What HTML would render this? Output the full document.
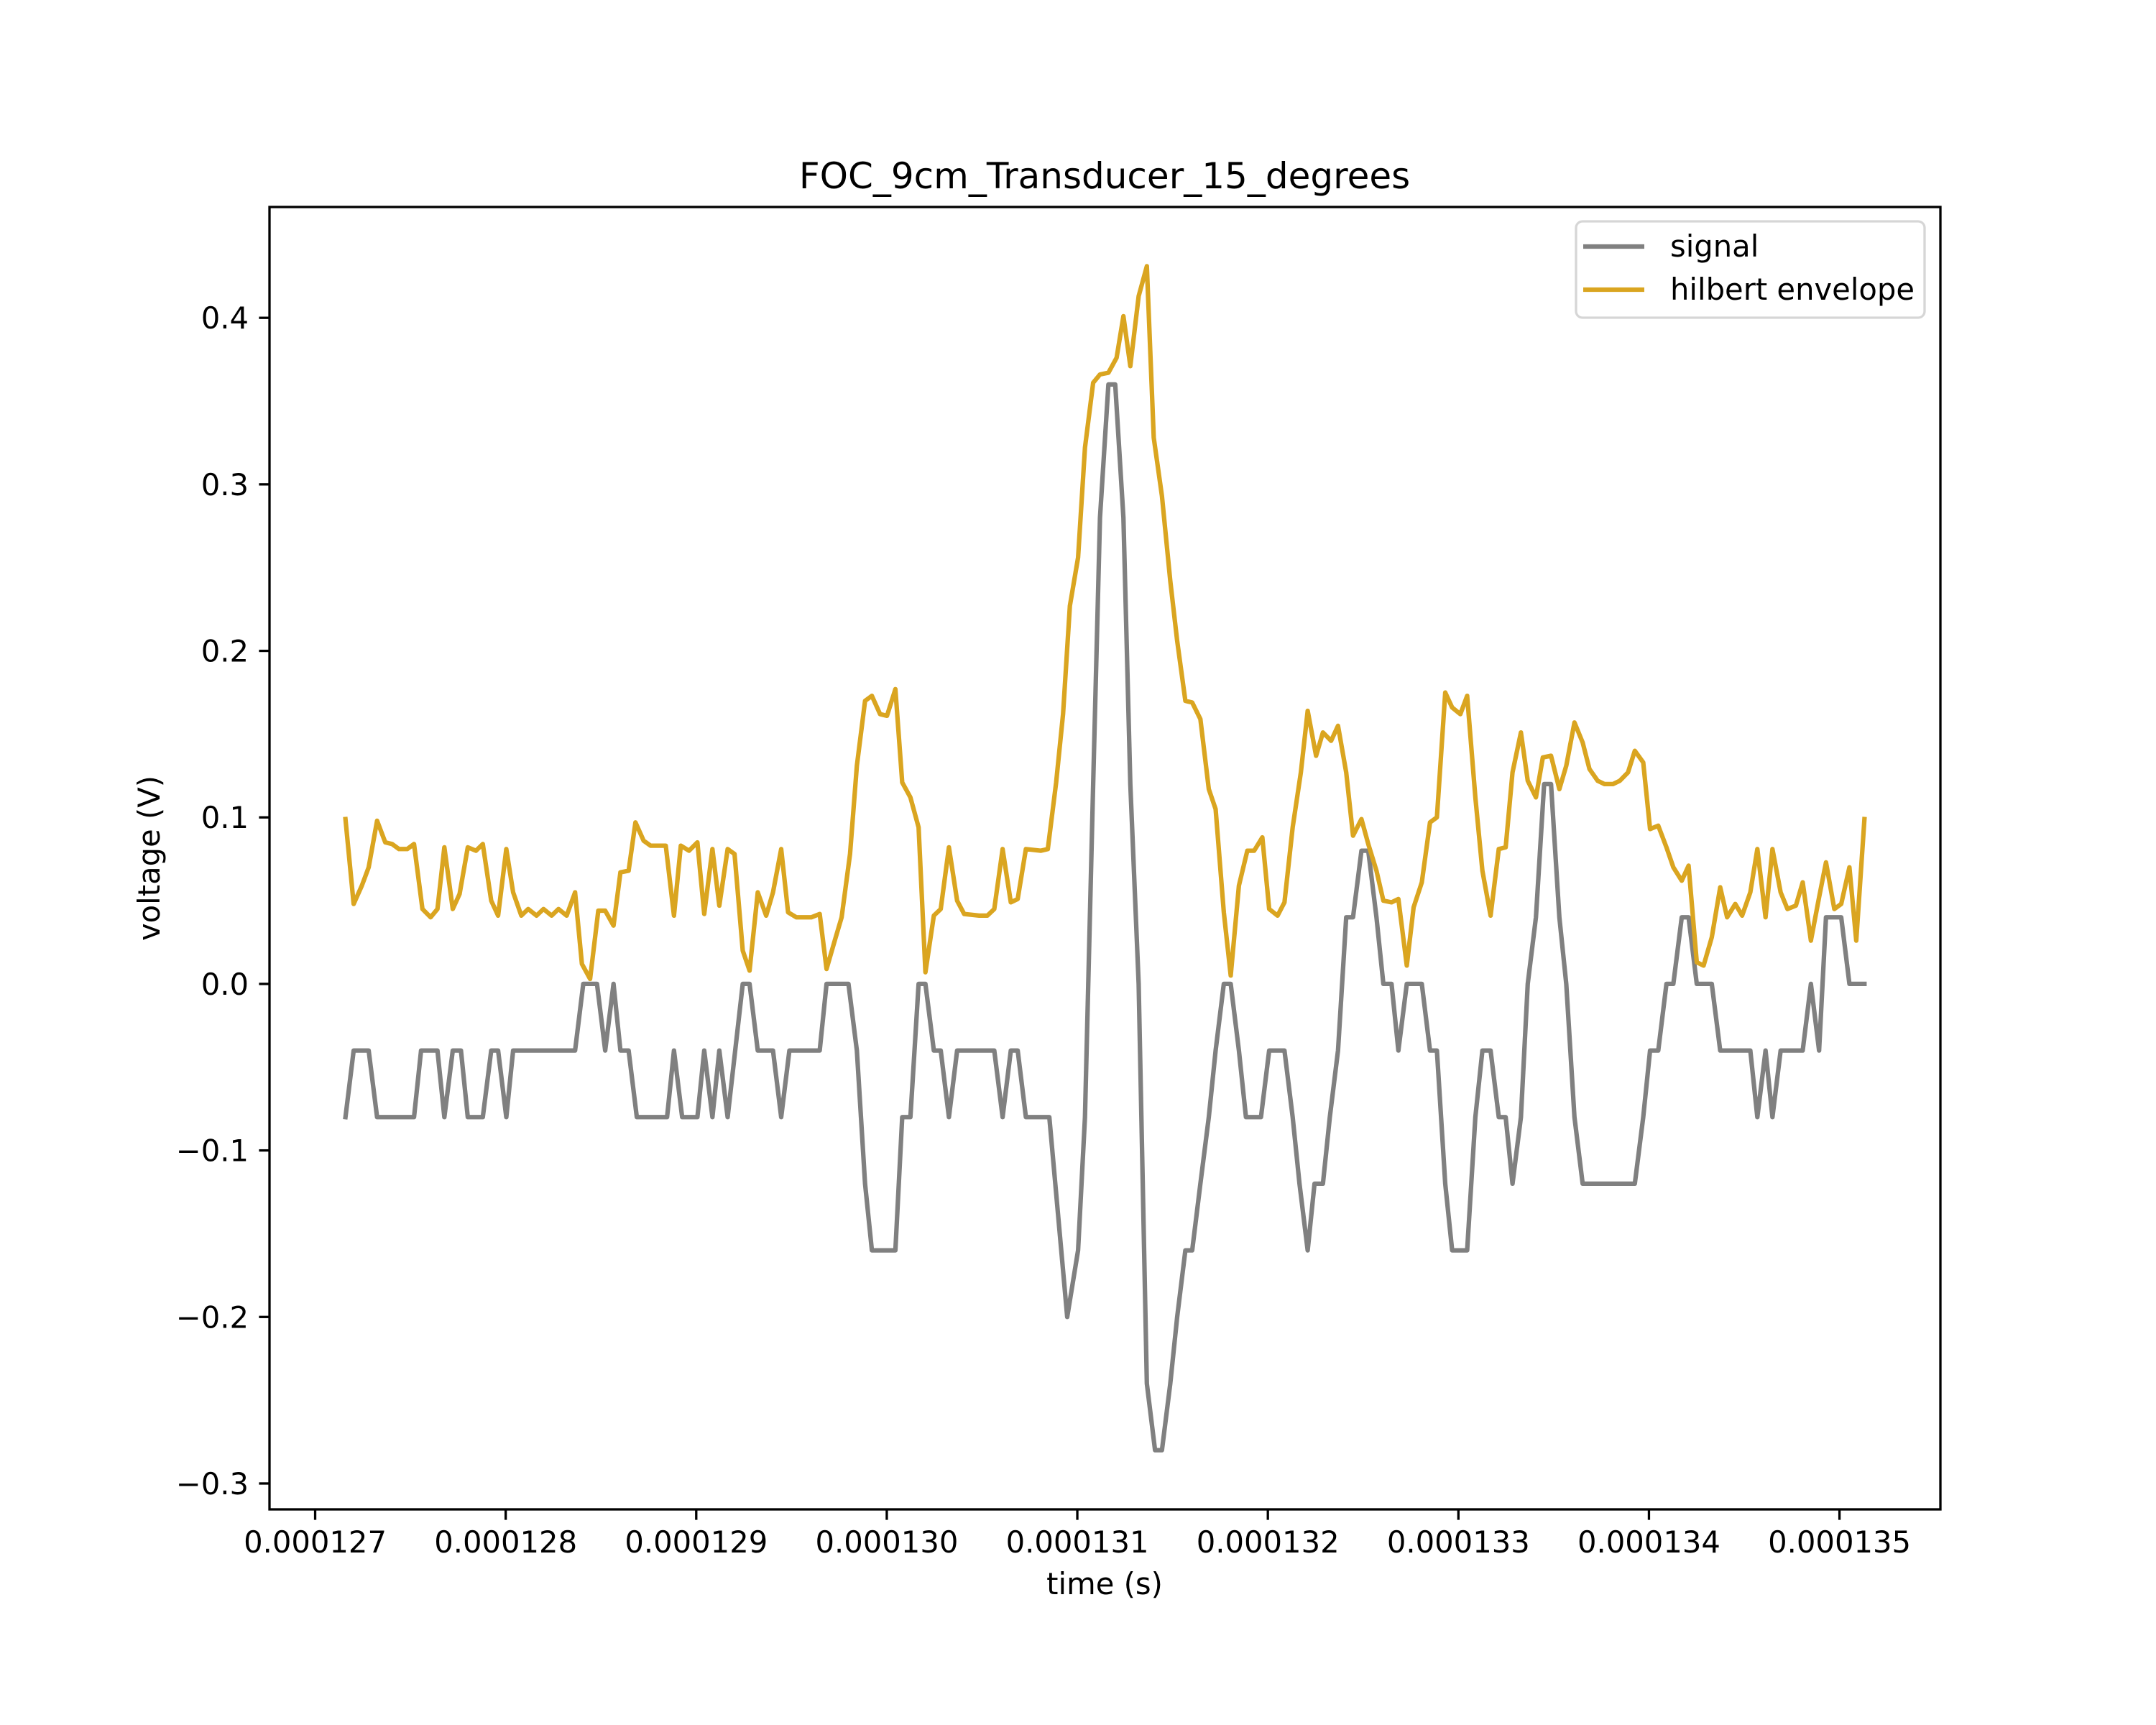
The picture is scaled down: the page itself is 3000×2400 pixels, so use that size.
<!DOCTYPE html>
<html><head><meta charset="utf-8"><style>html,body{margin:0;padding:0;background:#fff}svg{display:block}text{font-family:"DejaVu Sans","Liberation Sans",sans-serif;fill:#000}</style></head>
<body>
<svg id="chart" width="3000" height="2400" viewBox="0 0 3000 2400" xmlns="http://www.w3.org/2000/svg">
<rect width="3000" height="2400" fill="#fff"/>
<text x="1537" y="262" font-size="50" text-anchor="middle">FOC_9cm_Transducer_15_degrees</text>
<g id="plot"></g>
<text x="1537" y="2218" font-size="41.7" text-anchor="middle">time (s)</text>
<text x="0" y="0" font-size="41.7" text-anchor="middle" transform="translate(222,1194) rotate(-90)">voltage (V)</text>
<g>
<rect x="2193" y="308" width="485" height="134" rx="9" fill="#fff" fill-opacity="0.8" stroke="#d6d6d6" stroke-width="3.3"/>
<line x1="2203" y1="343" x2="2288" y2="343" stroke="#808080" stroke-width="6.25"/>
<text x="2324" y="357" font-size="41.7">signal</text>
<line x1="2203" y1="403" x2="2288" y2="403" stroke="#DAA520" stroke-width="6.25"/>
<text x="2324" y="417" font-size="41.7">hilbert envelope</text>
</g>
</svg>
<script>
const sigT=[127.159,127.202,127.281,127.325,127.519,127.556,127.642,127.678,127.722,127.765,127.801,127.880,127.924,127.960,128.003,128.039,128.364,128.407,128.479,128.522,128.566,128.602,128.645,128.688,128.847,128.883,128.926,129.006,129.042,129.085,129.121,129.165,129.244,129.280,129.323,129.403,129.446,129.489,129.648,129.684,129.799,129.843,129.886,129.922,130.045,130.081,130.124,130.167,130.203,130.247,130.283,130.326,130.369,130.564,130.608,130.651,130.687,130.730,130.853,130.947,131.004,131.040,131.083,131.119,131.163,131.199,131.242,131.278,131.322,131.365,131.408,131.444,131.488,131.524,131.567,131.603,131.646,131.690,131.726,131.769,131.805,131.848,131.885,131.964,132.007,132.087,132.130,132.166,132.209,132.245,132.289,132.325,132.368,132.411,132.447,132.491,132.527,132.570,132.606,132.649,132.685,132.729,132.808,132.851,132.887,132.931,132.967,133.046,133.089,133.126,133.169,133.212,133.248,133.284,133.328,133.364,133.407,133.450,133.486,133.530,133.566,133.609,133.652,133.926,133.970,134.006,134.049,134.092,134.128,134.172,134.208,134.251,134.330,134.374,134.532,134.569,134.612,134.648,134.691,134.807,134.850,134.893,134.929,135.009,135.052,135.131];
const sigV=[-0.08,-0.04,-0.04,-0.08,-0.08,-0.04,-0.04,-0.08,-0.04,-0.04,-0.08,-0.08,-0.04,-0.04,-0.08,-0.04,-0.04,0,0,-0.04,0,-0.04,-0.04,-0.08,-0.08,-0.04,-0.08,-0.08,-0.04,-0.08,-0.04,-0.08,0,0,-0.04,-0.04,-0.08,-0.04,-0.04,0,0,-0.04,-0.12,-0.16,-0.16,-0.08,-0.08,0,0,-0.04,-0.04,-0.08,-0.04,-0.04,-0.08,-0.04,-0.04,-0.08,-0.08,-0.20,-0.16,-0.08,0.12,0.28,0.36,0.36,0.28,0.12,0,-0.24,-0.28,-0.28,-0.24,-0.20,-0.16,-0.16,-0.12,-0.08,-0.04,0,0,-0.04,-0.08,-0.08,-0.04,-0.04,-0.08,-0.12,-0.16,-0.12,-0.12,-0.08,-0.04,0.04,0.04,0.08,0.08,0.04,0,0,-0.04,0,0,-0.04,-0.04,-0.12,-0.16,-0.16,-0.08,-0.04,-0.04,-0.08,-0.08,-0.12,-0.08,0,0.04,0.12,0.12,0.04,0,-0.08,-0.12,-0.12,-0.08,-0.04,-0.04,0,0,0.04,0.04,0,0,-0.04,-0.04,-0.08,-0.04,-0.08,-0.04,-0.04,0,-0.04,0.04,0.04,0,0];
const envT=[127.159,127.202,127.245,127.281,127.325,127.368,127.404,127.440,127.483,127.519,127.563,127.606,127.642,127.678,127.722,127.758,127.801,127.844,127.880,127.924,127.960,128.003,128.039,128.082,128.118,128.162,128.198,128.241,128.277,128.320,128.364,128.400,128.443,128.486,128.522,128.566,128.602,128.645,128.681,128.724,128.760,128.840,128.883,128.919,128.962,129.006,129.042,129.085,129.121,129.165,129.201,129.244,129.280,129.323,129.367,129.403,129.446,129.482,129.525,129.605,129.648,129.684,129.727,129.763,129.807,129.843,129.886,129.922,129.965,130.001,130.045,130.081,130.124,130.167,130.203,130.247,130.283,130.326,130.369,130.406,130.485,130.528,130.564,130.608,130.651,130.687,130.730,130.809,130.845,130.889,130.925,130.961,131.004,131.040,131.083,131.119,131.163,131.206,131.242,131.278,131.322,131.365,131.401,131.444,131.488,131.524,131.567,131.603,131.646,131.690,131.726,131.769,131.805,131.848,131.892,131.928,131.971,132.007,132.051,132.087,132.130,132.173,132.209,132.253,132.289,132.332,132.368,132.411,132.447,132.491,132.527,132.570,132.606,132.649,132.685,132.729,132.765,132.808,132.851,132.887,132.931,132.967,133.010,133.046,133.089,133.126,133.169,133.212,133.248,133.284,133.328,133.364,133.407,133.443,133.486,133.530,133.566,133.609,133.652,133.688,133.731,133.767,133.811,133.847,133.890,133.926,133.970,134.006,134.049,134.092,134.128,134.172,134.208,134.251,134.287,134.330,134.374,134.410,134.453,134.489,134.532,134.569,134.612,134.648,134.691,134.727,134.771,134.807,134.850,134.893,134.929,134.973,135.009,135.052,135.088,135.131];
const envV=[0.099,0.048,0.059,0.070,0.098,0.085,0.084,0.081,0.081,0.084,0.045,0.040,0.045,0.082,0.045,0.054,0.082,0.080,0.084,0.050,0.041,0.081,0.055,0.041,0.045,0.041,0.045,0.041,0.045,0.041,0.055,0.012,0.003,0.044,0.044,0.035,0.067,0.068,0.097,0.086,0.083,0.083,0.041,0.083,0.080,0.085,0.042,0.081,0.047,0.081,0.078,0.020,0.008,0.055,0.041,0.055,0.081,0.043,0.040,0.040,0.042,0.009,0.026,0.040,0.078,0.131,0.170,0.173,0.162,0.161,0.177,0.121,0.112,0.094,0.007,0.041,0.045,0.082,0.050,0.042,0.041,0.041,0.045,0.081,0.049,0.051,0.081,0.080,0.081,0.121,0.162,0.227,0.256,0.322,0.361,0.366,0.367,0.376,0.401,0.371,0.413,0.431,0.328,0.293,0.242,0.206,0.170,0.169,0.159,0.117,0.105,0.043,0.005,0.059,0.080,0.080,0.088,0.045,0.041,0.049,0.094,0.127,0.164,0.137,0.151,0.146,0.155,0.127,0.089,0.099,0.084,0.068,0.050,0.049,0.051,0.011,0.046,0.061,0.097,0.100,0.175,0.166,0.162,0.173,0.112,0.068,0.041,0.081,0.082,0.127,0.151,0.122,0.112,0.136,0.137,0.117,0.131,0.157,0.145,0.129,0.122,0.120,0.120,0.122,0.127,0.140,0.133,0.093,0.095,0.082,0.070,0.062,0.071,0.013,0.011,0.028,0.058,0.040,0.048,0.041,0.055,0.081,0.040,0.081,0.055,0.045,0.047,0.061,0.026,0.052,0.073,0.045,0.048,0.070,0.026,0.099];
const xTicks=[127,128,129,130,131,132,133,134,135];
const xTickLabels=["0.000127","0.000128","0.000129","0.000130","0.000131","0.000132","0.000133","0.000134","0.000135"];
const yTicks=[-0.3,-0.2,-0.1,0,0.1,0.2,0.3,0.4];
const yTickLabels=["\u22120.3","\u22120.2","\u22120.1","0.0","0.1","0.2","0.3","0.4"];

const L=375,R=2700,T=288,B=2100;
const allT=sigT.concat(envT),allV=sigV.concat(envV);
const tmin=Math.min(...allT),tmax=Math.max(...allT),vmin=Math.min(...allV),vmax=Math.max(...allV);
const x0=tmin-(tmax-tmin)*0.05,x1=tmax+(tmax-tmin)*0.05;
const y0=vmin-(vmax-vmin)*0.05,y1=vmax+(vmax-vmin)*0.05;
const xs=t=>L+(t-x0)/(x1-x0)*(R-L);
const ys=v=>B-(v-y0)/(y1-y0)*(B-T);
const NS='http://www.w3.org/2000/svg';
const plot=document.getElementById('plot');
function mk(tag,attrs){const e=document.createElementNS(NS,tag);for(const k in attrs)e.setAttribute(k,attrs[k]);return e;}
function line(ts,vs,color,name){
  const p=mk('polyline',{points:ts.map((t,i)=>xs(t).toFixed(1)+','+ys(vs[i]).toFixed(1)).join(' '),fill:'none',stroke:color,'stroke-width':6.25,'stroke-linejoin':'round','stroke-linecap':'square'});
  
  
  plot.appendChild(p);
}
line(sigT,sigV,'#808080','signal-line');
line(envT,envV,'#DAA520','envelope-line');
const frame=mk('rect',{x:L,y:T,width:R-L,height:B-T,fill:'none',stroke:'#000','stroke-width':3.3});


plot.appendChild(frame);
xTicks.forEach((t,i)=>{
  const x=xs(t);
  const tk=mk('line',{x1:x,y1:B,x2:x,y2:B+14.6,stroke:'#000','stroke-width':3.3});
  
  
  plot.appendChild(tk);
  const tx=mk('text',{x:x,y:B+60,'font-size':41.7,'text-anchor':'middle'});
  tx.textContent=xTickLabels[i];
  
  
  plot.appendChild(tx);
});
yTicks.forEach((v,i)=>{
  const y=ys(v);
  const tk=mk('line',{x1:L-14.6,y1:y,x2:L,y2:y,stroke:'#000','stroke-width':3.3});
  
  
  plot.appendChild(tk);
  const tx=mk('text',{x:L-29,y:y+15,'font-size':41.7,'text-anchor':'end'});
  tx.textContent=yTickLabels[i];
  
  
  plot.appendChild(tx);
});
</script>
</body></html>
